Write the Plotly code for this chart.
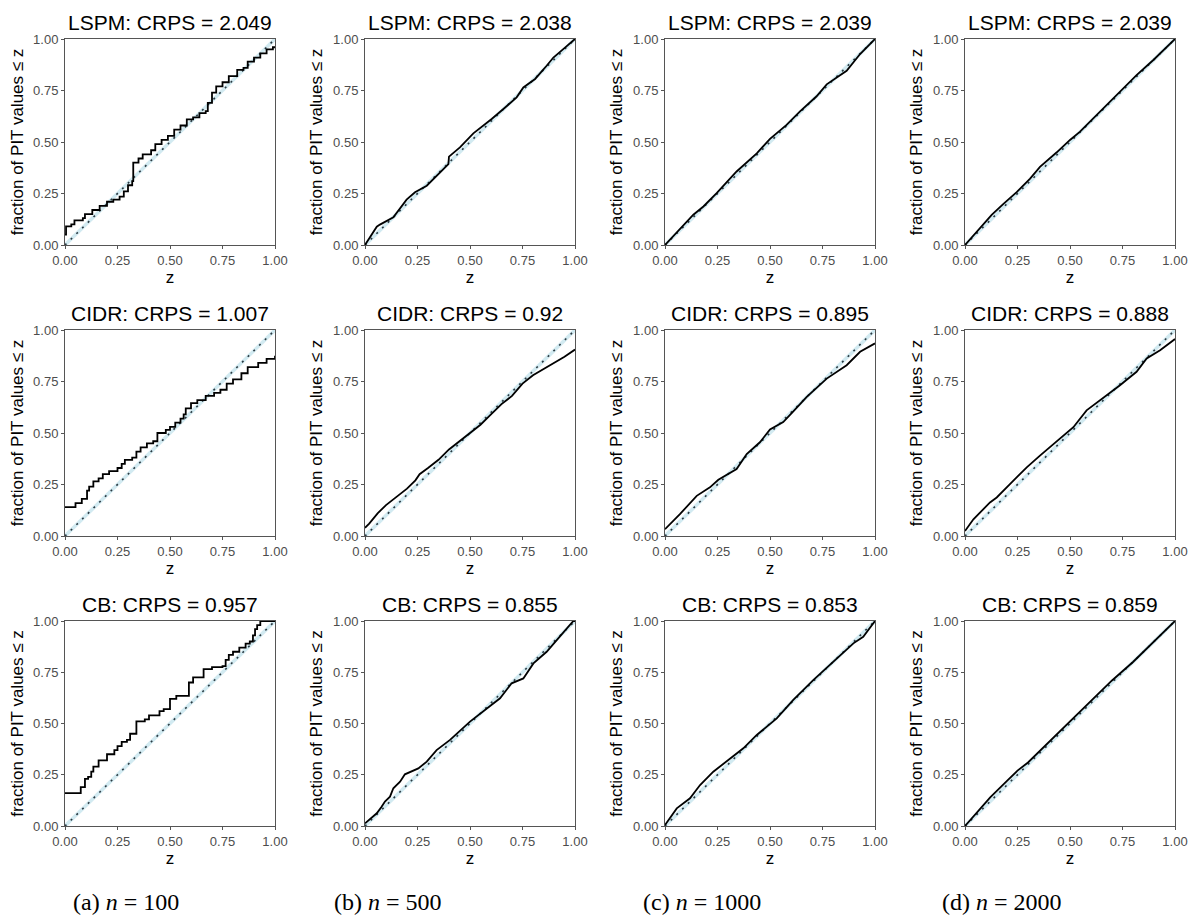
import plotly.graph_objects as go

# ---------------- data ----------------
sample_sizes = [100, 500, 1000, 2000]
panel_letters = ["a", "b", "c", "d"]
models = ["LSPM", "CIDR", "CB"]
lspm_crps = ["2.049", "2.038", "2.039", "2.039"]
cidr_crps = ["1.007", "0.92", "0.895", "0.888"]
cb_crps = ["0.957", "0.855", "0.853", "0.859"]

# LSPM
lspm_100_z = [0, 0.005, 0.03, 0.045, 0.085, 0.095, 0.13, 0.165, 0.2, 0.23, 0.26, 0.28, 0.3, 0.32, 0.325, 0.35, 0.37, 0.41, 0.43, 0.46, 0.49, 0.52, 0.55, 0.58, 0.61, 0.64, 0.67, 0.68, 0.70, 0.72, 0.75, 0.78, 0.82, 0.85, 0.87, 0.9, 0.93, 0.96, 0.99, 1.0]
lspm_100_F = [0.05, 0.09, 0.10, 0.12, 0.13, 0.15, 0.17, 0.19, 0.21, 0.22, 0.235, 0.26, 0.29, 0.31, 0.40, 0.42, 0.44, 0.46, 0.49, 0.51, 0.53, 0.56, 0.58, 0.61, 0.62, 0.64, 0.65, 0.69, 0.74, 0.77, 0.79, 0.82, 0.85, 0.86, 0.89, 0.91, 0.93, 0.95, 0.96, 0.965]
lspm_500_z = [0, 0.056, 0.071, 0.135, 0.198, 0.238, 0.294, 0.357, 0.397, 0.40, 0.452, 0.516, 0.563, 0.603, 0.659, 0.722, 0.754, 0.81, 0.865, 0.897, 0.944, 0.992, 1.0]
lspm_500_F = [0, 0.089, 0.099, 0.134, 0.22, 0.256, 0.288, 0.353, 0.393, 0.429, 0.474, 0.542, 0.579, 0.612, 0.66, 0.717, 0.765, 0.806, 0.87, 0.91, 0.951, 0.99, 1.0]
lspm_1000_z = [0, 0.135, 0.183, 0.246, 0.341, 0.437, 0.5, 0.579, 0.643, 0.722, 0.77, 0.865, 0.929, 0.992, 1.0]
lspm_1000_F = [0, 0.147, 0.187, 0.252, 0.357, 0.445, 0.515, 0.583, 0.649, 0.722, 0.78, 0.846, 0.927, 0.99, 1.0]
lspm_2000_z = [0, 0.127, 0.183, 0.246, 0.31, 0.357, 0.437, 0.5, 0.548, 0.611, 0.754, 0.817, 0.897, 0.992, 1.0]
lspm_2000_F = [0, 0.146, 0.2, 0.257, 0.322, 0.379, 0.45, 0.51, 0.55, 0.615, 0.761, 0.825, 0.898, 0.99, 1.0]

# CIDR
cidr_100_z = [0, 0.05, 0.08, 0.105, 0.115, 0.135, 0.16, 0.18, 0.21, 0.25, 0.27, 0.285, 0.32, 0.34, 0.36, 0.39, 0.42, 0.44, 0.48, 0.50, 0.525, 0.55, 0.565, 0.575, 0.6, 0.63, 0.67, 0.71, 0.74, 0.77, 0.8, 0.84, 0.87, 0.92, 0.96, 1.0]
cidr_100_F = [0.14, 0.16, 0.18, 0.22, 0.24, 0.265, 0.28, 0.30, 0.315, 0.33, 0.35, 0.37, 0.38, 0.41, 0.43, 0.45, 0.46, 0.50, 0.515, 0.53, 0.55, 0.57, 0.59, 0.62, 0.645, 0.66, 0.68, 0.695, 0.71, 0.74, 0.76, 0.79, 0.82, 0.84, 0.86, 0.875]
cidr_500_z = [0, 0.02, 0.06, 0.1, 0.15, 0.2, 0.24, 0.26, 0.3, 0.35, 0.4, 0.45, 0.5, 0.55, 0.6, 0.65, 0.7, 0.75, 0.8, 0.85, 0.9, 0.95, 1.0]
cidr_500_F = [0.04, 0.06, 0.11, 0.15, 0.19, 0.23, 0.27, 0.30, 0.33, 0.37, 0.42, 0.46, 0.50, 0.54, 0.59, 0.64, 0.68, 0.74, 0.78, 0.81, 0.84, 0.87, 0.905]
cidr_1000_z = [0, 0.071, 0.151, 0.214, 0.254, 0.341, 0.389, 0.452, 0.5, 0.563, 0.611, 0.675, 0.77, 0.865, 0.929, 1.0]
cidr_1000_F = [0.033, 0.106, 0.195, 0.236, 0.273, 0.325, 0.398, 0.455, 0.517, 0.553, 0.605, 0.675, 0.764, 0.829, 0.894, 0.935]
cidr_2000_z = [0, 0.04, 0.119, 0.151, 0.214, 0.294, 0.357, 0.452, 0.516, 0.579, 0.643, 0.738, 0.817, 0.865, 0.929, 1.0]
cidr_2000_F = [0.024, 0.081, 0.163, 0.187, 0.252, 0.333, 0.39, 0.472, 0.528, 0.61, 0.659, 0.732, 0.797, 0.862, 0.902, 0.956]

# CB
cb_100_z = [0, 0.075, 0.095, 0.11, 0.125, 0.135, 0.16, 0.2, 0.235, 0.25, 0.27, 0.295, 0.31, 0.34, 0.38, 0.4, 0.45, 0.47, 0.5, 0.53, 0.59, 0.61, 0.66, 0.7, 0.75, 0.765, 0.78, 0.8, 0.83, 0.86, 0.88, 0.895, 0.905, 0.915, 0.93, 1.0]
cb_100_F = [0.16, 0.19, 0.23, 0.24, 0.265, 0.29, 0.32, 0.35, 0.37, 0.39, 0.41, 0.42, 0.45, 0.51, 0.52, 0.54, 0.56, 0.57, 0.62, 0.635, 0.70, 0.725, 0.765, 0.775, 0.78, 0.81, 0.835, 0.85, 0.87, 0.89, 0.90, 0.93, 0.96, 0.98, 1.0, 1.0]
cb_500_z = [0, 0.056, 0.079, 0.095, 0.119, 0.135, 0.167, 0.19, 0.254, 0.294, 0.341, 0.405, 0.5, 0.579, 0.643, 0.698, 0.754, 0.802, 0.865, 0.913, 0.992, 1.0]
cb_500_F = [0.013, 0.062, 0.094, 0.119, 0.143, 0.184, 0.216, 0.252, 0.281, 0.314, 0.37, 0.42, 0.509, 0.574, 0.623, 0.696, 0.72, 0.793, 0.85, 0.907, 1.0, 1.0]
cb_1000_z = [0, 0.056, 0.119, 0.167, 0.23, 0.294, 0.373, 0.437, 0.532, 0.611, 0.706, 0.802, 0.897, 0.944, 1.0]
cb_1000_F = [0.005, 0.086, 0.135, 0.2, 0.265, 0.314, 0.379, 0.444, 0.525, 0.615, 0.712, 0.802, 0.891, 0.923, 1.0]
cb_2000_z = [0, 0.05, 0.12, 0.2, 0.25, 0.3, 0.4, 0.5, 0.6, 0.7, 0.8, 0.9, 1.0]
cb_2000_F = [0, 0.06, 0.14, 0.22, 0.27, 0.31, 0.41, 0.51, 0.61, 0.71, 0.80, 0.90, 1.0]

diag_z = [0, 1]
band_half = 0.012

curves = [
    [(lspm_100_z, lspm_100_F), (lspm_500_z, lspm_500_F), (lspm_1000_z, lspm_1000_F), (lspm_2000_z, lspm_2000_F)],
    [(cidr_100_z, cidr_100_F), (cidr_500_z, cidr_500_F), (cidr_1000_z, cidr_1000_F), (cidr_2000_z, cidr_2000_F)],
    [(cb_100_z, cb_100_F), (cb_500_z, cb_500_F), (cb_1000_z, cb_1000_F), (cb_2000_z, cb_2000_F)],
]
crps = [lspm_crps, cidr_crps, cb_crps]

# ---------------- layout ----------------
OFF = 8  # page body margin
W, H = 1199 - OFF, 922 - OFF
col_left = [65 - OFF, 365 - OFF, 665 - OFF, 965 - OFF]
col_w = 210
row_top = [39 - OFF, 330 - OFF, 621 - OFF]
row_bot = [245 - OFF, 536 - OFF, 826 - OFF]
caption_x = [126 - OFF, 388 - OFF, 702 - OFF, 1002 - OFF]
caption_y = 902 - OFF

fig = go.Figure()
layout = dict(width=W, height=H, autosize=False, margin=dict(l=0, r=0, t=0, b=0, pad=0),
              paper_bgcolor="white", plot_bgcolor="white", showlegend=False,
              font=dict(family="Liberation Sans, Arial, sans-serif", color="black"))
annotations = []

tick_vals = [0, 0.25, 0.5, 0.75, 1.0]
tick_text = ["0.00", "0.25", "0.50", "0.75", "1.00"]

k = 0
for r in range(3):
    for c in range(4):
        k += 1
        xa = "x" if k == 1 else f"x{k}"
        ya = "y" if k == 1 else f"y{k}"
        xkey = "xaxis" if k == 1 else f"xaxis{k}"
        ykey = "yaxis" if k == 1 else f"yaxis{k}"
        xd = [col_left[c] / W, (col_left[c] + col_w) / W]
        yd = [1 - row_bot[r] / H, 1 - row_top[r] / H]
        common = dict(range=[0, 1], tickvals=tick_vals, ticktext=tick_text, automargin=False,
                      showgrid=False, zeroline=False, showline=True, mirror=True,
                      linecolor="#555555", linewidth=1, ticks="outside", ticklen=3,
                      tickcolor="#555555", tickfont=dict(size=13, color="#4d4d4d"))
        layout[xkey] = dict(domain=xd, anchor=ya, **common,
                            title=dict(text="z", font=dict(size=17, color="black"), standoff=2))
        layout[ykey] = dict(domain=yd, anchor=xa, **common,
                            title=dict(text="fraction of PIT values ≤ z", font=dict(size=17, color="black"), standoff=6))

        # light blue band around diagonal
        fig.add_trace(go.Scatter(x=diag_z + diag_z[::-1],
                                 y=[v - band_half for v in diag_z] + [v + band_half for v in diag_z[::-1]],
                                 fill="toself", fillcolor="rgba(173,216,230,0.55)", line=dict(width=0),
                                 mode="lines", xaxis=xa, yaxis=ya, hoverinfo="skip"))
        # dotted diagonal
        fig.add_trace(go.Scatter(x=diag_z, y=diag_z, mode="lines",
                                 line=dict(color="#2b3a42", width=1.6, dash="2px,6px"),
                                 xaxis=xa, yaxis=ya, hoverinfo="skip"))
        z, F = curves[r][c]
        fig.add_trace(go.Scatter(x=z, y=F, mode="lines",
                                 line=dict(color="black", width=1.8, shape="hv" if c == 0 else "linear"),
                                 xaxis=xa, yaxis=ya))
        annotations.append(dict(text=f"{models[r]}: CRPS = {crps[r][c]}", xref="paper", yref="paper",
                                x=(col_left[c] + col_w / 2) / W, y=1 - (row_top[r] - 3) / H,
                                xanchor="center", yanchor="bottom", showarrow=False,
                                font=dict(size=21, color="black")))

for c in range(4):
    annotations.append(dict(text=f"({panel_letters[c]}) <i>n</i> = {sample_sizes[c]}", xref="paper", yref="paper",
                            x=caption_x[c] / W, y=1 - caption_y / H, xanchor="center", yanchor="middle",
                            showarrow=False,
                            font=dict(size=24, color="black", family="Liberation Serif, DejaVu Serif, serif")))

layout["annotations"] = annotations
fig.update_layout(**layout)
fig.write_html("out.html")
